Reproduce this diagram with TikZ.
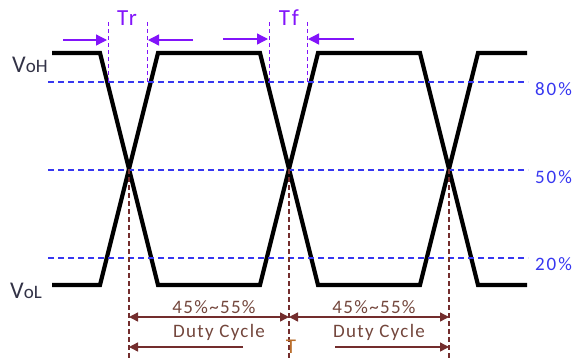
\documentclass[tikz,border=0pt]{standalone}
\usepackage{fontspec}
\setmainfont{Carlito}
\usetikzlibrary{arrows.meta}
\definecolor{wblue}{RGB}{55,55,240}
\definecolor{wpurple}{RGB}{130,20,250}
\definecolor{wmaroon}{RGB}{115,45,45}
\definecolor{wtext}{RGB}{115,70,60}
\definecolor{worange}{RGB}{185,110,45}
\definecolor{wdark}{RGB}{50,50,70}
\begin{document}
\begin{tikzpicture}[x=1pt,y=-1pt,
  wave/.style={line width=4.2pt,black},
  lvline/.style={wblue,line width=1.1pt,dash pattern=on 6pt off 4pt},
  pct/.style={text=wblue,font=\fontsize{19}{19}\selectfont\addfontfeatures{LetterSpace=10},inner sep=0pt,anchor=west},
  tickline/.style={wpurple,line width=1pt,dash pattern=on 4pt off 3pt},
  tarrow/.style={wpurple,line width=1.3pt,-{Triangle[length=11pt,width=11pt]}},
  tlabel/.style={text=wpurple,font=\fontsize{23}{23}\selectfont\addfontfeatures{LetterSpace=8},inner sep=0pt,anchor=base},
  vline/.style={wmaroon,line width=1.1pt,dash pattern=on 5pt off 3pt},
  dimarrow/.style={wmaroon,line width=1.4pt,{Triangle[length=9pt,width=9pt]}-{Triangle[length=9pt,width=9pt]}},
  dimone/.style={wmaroon,line width=1.4pt,-{Triangle[length=9pt,width=9pt]}},
  dtext/.style={text=wtext,font=\fontsize{19}{19}\selectfont\addfontfeatures{LetterSpace=7},inner sep=0pt,anchor=base},
  vlabel/.style={text=wdark,inner sep=0pt,anchor=base west}
]
\useasboundingbox (0,0) rectangle (581,360);

% waveforms
\draw[wave] (52,53) -- (100,53) -- (158,285) -- (260,285) -- (318,53) -- (420,53) -- (478,285) -- (527,285);
\draw[wave] (52,285) -- (100,285) -- (158,53) -- (260,53) -- (318,285) -- (420,285) -- (478,53) -- (527,53);

% crossing points
\coordinate (c1) at (129,169);
\coordinate (c2) at (289,169);
\coordinate (c3) at (449,169);

% level lines
\coordinate (l80a) at (48,82);  \coordinate (l80b) at (528,82);
\coordinate (l50a) at (48,170); \coordinate (l50b) at (528,170);
\coordinate (l20a) at (48,258); \coordinate (l20b) at (528,258);
\draw[lvline] (l80a) -- (l80b);
\draw[lvline] (l50a) -- (l50b);
\draw[lvline] (l20a) -- (l20b);
\node[pct] (p80) at (535,89) {80\%};
\node[pct] (p50) at (535,177) {50\%};
\node[pct] (p20) at (535,264) {20\%};

% VOH / VOL
\node[vlabel] (voh) at (12,72) {\fontsize{24}{24}\selectfont V\fontsize{19}{19}\selectfont oH};
\node[vlabel] (vol) at (10,298) {\fontsize{24}{24}\selectfont V\fontsize{19}{19}\selectfont oL};

% Tr
\coordinate (tr1t) at (108,22); \coordinate (tr1b) at (108,82);
\coordinate (tr2t) at (147,22); \coordinate (tr2b) at (147,82);
\draw[tickline] (tr1t) -- (tr1b);
\draw[tickline] (tr2t) -- (tr2b);
\coordinate (tra) at (63,40); \coordinate (trae) at (107,40);
\coordinate (trb) at (193,40); \coordinate (trbe) at (148,40);
\draw[tarrow] (tra) -- (trae);
\draw[tarrow] (trb) -- (trbe);
\node[tlabel] (tr) at (127,25) {Tr};

% Tf
\coordinate (tf1t) at (269,22); \coordinate (tf1b) at (269,82);
\coordinate (tf2t) at (307,22); \coordinate (tf2b) at (307,82);
\draw[tickline] (tf1t) -- (tf1b);
\draw[tickline] (tf2t) -- (tf2b);
\coordinate (tfa) at (223,39); \coordinate (tfae) at (268,39);
\coordinate (tfb) at (354,39); \coordinate (tfbe) at (308,39);
\draw[tarrow] (tfa) -- (tfae);
\draw[tarrow] (tfb) -- (tfbe);
\node[tlabel] (tf) at (289,25) {Tf};

% period markers
\coordinate (b1) at (129,360);
\coordinate (b2) at (289,360);
\coordinate (b3) at (449,360);
\draw[vline] (c1) -- (b1);
\draw[vline] (c2) -- (b2);
\draw[vline] (c3) -- (b3);

\coordinate (d1) at (129,317); \coordinate (d2) at (289,317); \coordinate (d3) at (449,317);
\draw[dimarrow] (d1) -- (d2);
\draw[dimarrow] (d2) -- (d3);
\node[dtext] (dc1) at (214,313) {45\%\textasciitilde 55\%};
\node[dtext] (dc2) at (374,313) {45\%\textasciitilde 55\%};
\node[dtext] (du1) at (219,337) {Duty Cycle};
\node[dtext] (du2) at (379,337) {Duty Cycle};

\coordinate (e1s) at (243,347); \coordinate (e1e) at (129,347);
\coordinate (e2s) at (335,347); \coordinate (e2e) at (449,347);
\draw[dimone] (e1s) -- (e1e);
\draw[dimone] (e2s) -- (e2e);
\node[text=worange,font=\fontsize{21}{21}\selectfont,inner sep=0pt,anchor=base] (tt) at (291,353) {T};
\end{tikzpicture}
\end{document}
